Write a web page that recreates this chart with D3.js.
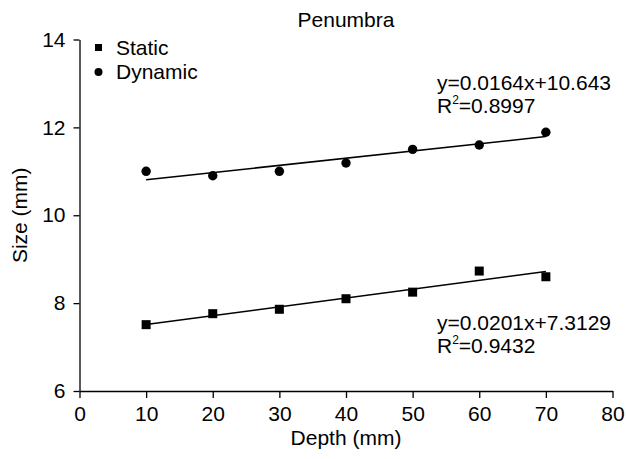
<!DOCTYPE html>
<html>
<head>
<meta charset="utf-8">
<script src="https://cdn.jsdelivr.net/npm/d3@7"></script>
<style>
  html, body { margin: 0; padding: 0; background: #fff; overflow: hidden; }
  svg { display: block; font-family: "Liberation Sans", Arial, sans-serif; }
  .axis path, .axis line { stroke: #000; stroke-width: 1.3; }
  .axis text { fill: #000; }
</style>
</head>
<body>
<div id="chart"></div>
<script>
const depth = [10, 20, 30, 40, 50, 60, 70];
const staticSize = [7.51, 7.76, 7.86, 8.10, 8.25, 8.73, 8.60];
const dynamicSize = [11.00, 10.90, 11.00, 11.19, 11.50, 11.60, 11.89];
const xTicks = [0, 10, 20, 30, 40, 50, 60, 70, 80];
const yTicks = [6, 8, 10, 12, 14];
const fits = [
  { key: "static", slope: 0.0201, intercept: 7.3129, eq: "y=0.0201x+7.3129", r2: "=0.9432" },
  { key: "dynamic", slope: 0.0164, intercept: 10.643, eq: "y=0.0164x+10.643", r2: "=0.8997" }
];

const width = 626, height = 459;
const margin = { top: 39.5, right: 13.5, bottom: 68, left: 79.5 };
const innerWidth = width - margin.left - margin.right;
const innerHeight = height - margin.top - margin.bottom;
const fontSize = 21;

const svg = d3.select("#chart")
  .append("svg")
    .attr("viewBox", [0, 0, width, height])
    .attr("width", width)
    .attr("height", height);

const xScale = d3.scaleLinear().domain([0, 80]).range([0, innerWidth]);
const yScale = d3.scaleLinear().domain([6, 14]).range([innerHeight, 0]);

const innerChart = svg
  .append("g")
    .attr("transform", `translate(${margin.left}, ${margin.top})`);

// axes
innerChart
  .append("g")
    .attr("class", "axis")
    .attr("transform", `translate(0, ${innerHeight})`)
    .call(d3.axisBottom(xScale).tickValues(xTicks).tickSize(7).tickSizeOuter(0).tickPadding(8))
    .attr("font-size", fontSize)
    .attr("font-family", null);

innerChart
  .append("g")
    .attr("class", "axis")
    .call(d3.axisLeft(yScale).tickValues(yTicks).tickSize(6).tickSizeOuter(0).tickPadding(8))
    .attr("font-size", fontSize)
    .attr("font-family", null);

// fit lines
innerChart
  .append("g")
  .selectAll("line")
  .data(fits)
  .join("line")
    .attr("x1", xScale(depth[0]))
    .attr("x2", xScale(depth[depth.length - 1]))
    .attr("y1", d => yScale(d.intercept + d.slope * depth[0]))
    .attr("y2", d => yScale(d.intercept + d.slope * depth[depth.length - 1]))
    .attr("stroke", "#000")
    .attr("stroke-width", 1.5);

// points
const sq = 9;
innerChart
  .append("g")
  .selectAll("rect")
  .data(depth)
  .join("rect")
    .attr("x", d => xScale(d) - sq / 2)
    .attr("y", (d, i) => yScale(staticSize[i]) - sq / 2)
    .attr("width", sq)
    .attr("height", sq)
    .attr("fill", "#000");

innerChart
  .append("g")
  .selectAll("circle")
  .data(depth)
  .join("circle")
    .attr("cx", d => xScale(d))
    .attr("cy", (d, i) => yScale(dynamicSize[i]))
    .attr("r", 4.7)
    .attr("fill", "#000");

// equations
const eqPos = { dynamic: 90, static: 330 };
fits.forEach(f => {
  svg.append("text")
    .attr("x", 437)
    .attr("y", eqPos[f.key])
    .attr("font-size", fontSize)
    .text(f.eq);
  const r = svg.append("text")
    .attr("x", 437)
    .attr("y", eqPos[f.key] + 22.5)
    .attr("font-size", fontSize);
  r.append("tspan").text("R");
  r.append("tspan").text("2").attr("dy", -9).attr("font-size", 12);
  r.append("tspan").text(f.r2).attr("dy", 9);
});

// legend
const legend = svg.append("g");
legend.append("rect")
  .attr("x", 95).attr("y", 44).attr("width", 7).attr("height", 7).attr("fill", "#000");
legend.append("circle")
  .attr("cx", 98.5).attr("cy", 72).attr("r", 4).attr("fill", "#000");
legend.append("text").attr("x", 116).attr("y", 55).attr("font-size", fontSize).text("Static");
legend.append("text").attr("x", 116).attr("y", 79).attr("font-size", fontSize).text("Dynamic");

// titles
svg.append("text")
  .attr("x", margin.left + innerWidth / 2)
  .attr("y", 27)
  .attr("text-anchor", "middle")
  .attr("font-size", fontSize)
  .text("Penumbra");

svg.append("text")
  .attr("x", margin.left + innerWidth / 2)
  .attr("y", 445)
  .attr("text-anchor", "middle")
  .attr("font-size", fontSize)
  .text("Depth (mm)");

svg.append("text")
  .attr("transform", `translate(27, ${margin.top + innerHeight / 2}) rotate(-90)`)
  .attr("text-anchor", "middle")
  .attr("font-size", fontSize)
  .text("Size (mm)");
</script>
</body>
</html>
